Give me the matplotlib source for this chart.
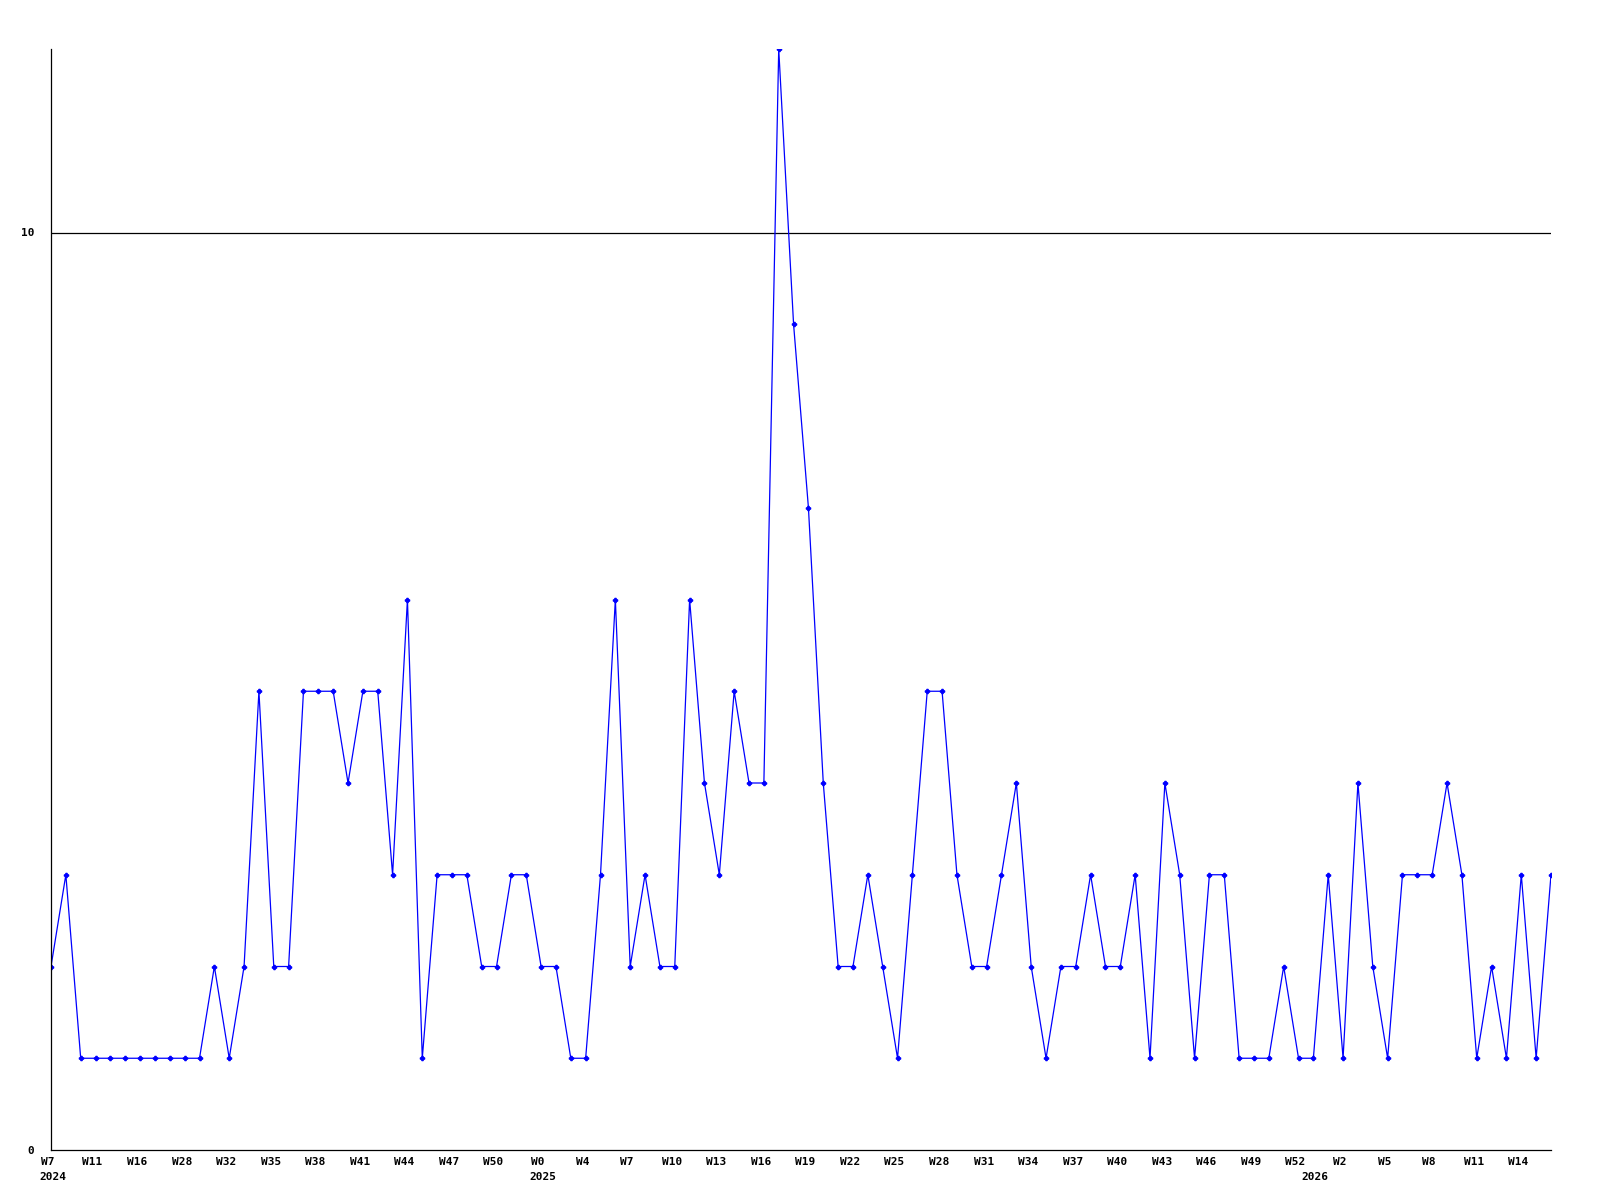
import numpy as np
import matplotlib
matplotlib.use("Agg")
import matplotlib.pyplot as plt
import matplotlib.transforms as mtransforms

# one value per data row (weekly counts)
counts = [2, 3, 1, 1, 1, 1, 1, 1, 1, 1,
          1, 2, 1, 2, 5, 2, 2, 5, 5, 5,
          4, 5, 5, 3, 6, 1, 3, 3, 3, 2,
          2, 3, 3, 2, 2, 1, 1, 3, 6, 2,
          3, 2, 2, 6, 4, 3, 5, 4, 4, 12,
          9, 7, 4, 2, 2, 3, 2, 1, 3, 5,
          5, 3, 2, 2, 3, 4, 2, 1, 2, 2,
          3, 2, 2, 3, 1, 4, 3, 1, 3, 3,
          1, 1, 1, 2, 1, 1, 3, 1, 4, 2,
          1, 3, 3, 3, 4, 3, 1, 2, 1, 3,
          1, 3]

# a label every third row
week_labels = ["W7", "W11", "W16", "W28", "W32", "W35", "W38", "W41", "W44",
               "W47", "W50", "W0", "W4", "W7", "W10", "W13", "W16", "W19",
               "W22", "W25", "W28", "W31", "W34", "W37", "W40", "W43", "W46",
               "W49", "W52", "W2", "W5", "W8", "W11", "W14"]
year_labels = ["2024", "2025", "2026"]
year_rows = [0, 33, 85]

font = dict(family="DejaVu Sans Mono", weight="bold", size=8)

fig = plt.figure(figsize=(16, 12), dpi=100)
ax = fig.add_axes([51 / 1600, 50 / 1200, 1500 / 1600, 1101 / 1200])

x = np.arange(len(counts))
ax.plot(x, counts, color="#0000ff", lw=0.9, marker="P", ms=3,
        mec="#0000ff", mfc="#0000ff", clip_on=True)

ax.axhline(10, color="black", lw=0.9, zorder=1)

for s in ["top", "right"]:
    ax.spines[s].set_visible(False)
ax.spines["left"].set_linewidth(0.9)
ax.spines["bottom"].set_linewidth(0.9)

ax.set_yticks([0, 10])
ax.set_yticklabels(["0", "10"], **font)
ax.tick_params(axis="y", length=0, pad=12)

ax.set_xticks(x[::3][:len(week_labels)])
ax.set_xticklabels(week_labels, **font)
ax.tick_params(axis="x", length=0, pad=5)
# nudge week labels a little to the left of their points
shift = mtransforms.ScaledTranslation(-3 / 100, 0, fig.dpi_scale_trans)
for lbl in ax.get_xticklabels():
    lbl.set_transform(lbl.get_transform() + shift)

ax.set_xlim(0, len(counts) - 1)
ax.set_ylim(0, 12)

trans = mtransforms.blended_transform_factory(ax.transData, ax.transAxes)
for yr, row in zip(year_labels, year_rows):
    ax.text(row - 0.8, -0.0245, yr, transform=trans, ha="left", va="center",
            **font)

fig.savefig("out.png", dpi=100)
